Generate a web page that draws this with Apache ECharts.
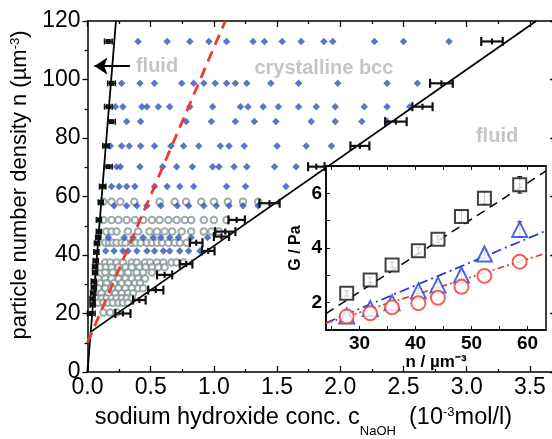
<!DOCTYPE html>
<html><head><meta charset="utf-8">
<script src="https://cdn.jsdelivr.net/npm/echarts@6/dist/echarts.min.js"></script>
<style>html,body{margin:0;padding:0;background:#fff}#c{width:552px;height:439px}</style>
</head><body><div id="c"></div>
<script>
// ---------- main panel data ----------
const xTickValues = [0, 0.5, 1, 1.5, 2, 2.5, 3, 3.5];
const yTickValues = [0, 20, 40, 60, 80, 100, 120];

// crystalline bcc (blue diamonds), one row per density
const bccRowY = [113, 98.7, 90.7, 85.6, 77.3, 70.2, 63.4, 56.8, 46, 41.4];
const bccRowX = [
  [0.40, 0.63, 0.81, 0.96, 1.10, 1.31, 1.40, 1.54, 1.69, 1.87, 1.94, 2.27, 2.50, 2.86],
  [0.27, 0.415, 0.53, 0.745, 0.84, 0.92, 1.01, 1.10, 1.17, 1.26, 1.45, 1.67, 1.98, 2.37, 2.61],
  [0.22, 0.28, 0.43, 0.47, 0.56, 0.65, 0.81, 0.99, 1.21, 1.27, 1.39, 1.51, 1.67, 1.81, 1.96, 2.19, 2.37, 2.55],
  [0.31, 0.42, 0.78, 0.98, 1.17, 1.32, 1.49, 1.77, 1.96, 2.17, 2.37],
  [0.18, 0.27, 0.33, 0.42, 0.53, 0.66, 0.76, 0.88, 1.05, 1.12, 1.24, 1.50, 1.73, 1.93],
  [0.23, 0.26, 0.415, 0.595, 0.705, 0.83, 0.99, 1.04, 1.16, 1.26, 1.48, 1.65],
  [0.19, 0.25, 0.31, 0.375, 0.53, 0.63, 0.73, 0.84, 1.10, 1.25, 1.57],
  [0.21, 0.31, 0.39, 0.47, 0.58, 0.71, 0.80, 0.92, 1.02, 1.12, 1.23, 1.35],
  [0.165, 0.29, 0.36, 0.44, 0.52, 0.58, 0.65, 0.72, 0.82, 0.95],
  [0.144, 0.21, 0.28, 0.32, 0.39, 0.47, 0.53, 0.60, 0.65, 0.73, 0.80, 0.89]
];

// open circles, one row per density
const glassRowY = [58.2, 52, 48, 44.2, 37.4, 35.8, 34, 32, 30.3, 28.6, 26.9, 25.2, 23.7, 20.3];
const glassRowX = [
  [0.125, 0.19, 0.26, 0.37, 0.57, 0.69, 0.78, 0.90, 1.00, 1.11, 1.23, 1.35],
  [0.125, 0.19, 0.245, 0.31, 0.375, 0.44, 0.51, 0.57, 0.64, 0.705, 0.77, 0.82, 0.92, 1.00, 1.10],
  [0.15, 0.19, 0.23, 0.32, 0.40, 0.49, 0.55, 0.61, 0.67, 0.745, 0.82, 0.92, 0.98, 1.04],
  [0.14, 0.17, 0.20, 0.23, 0.27, 0.30, 0.35, 0.38, 0.42, 0.47, 0.51, 0.55, 0.59, 0.64, 0.69, 0.73, 0.785],
  [0.14, 0.18, 0.23, 0.28, 0.35, 0.39, 0.455, 0.495, 0.55, 0.60, 0.665, 0.705, 0.76],
  [0.10, 0.145, 0.19, 0.245, 0.30, 0.35, 0.41, 0.46, 0.51, 0.56, 0.61],
  [0.14, 0.20, 0.26, 0.32, 0.39, 0.44, 0.51],
  [0.085, 0.14, 0.19, 0.245, 0.30, 0.35, 0.40, 0.455],
  [0.10, 0.15, 0.21, 0.27, 0.32, 0.375, 0.415],
  [0.085, 0.14, 0.19, 0.245, 0.30, 0.35, 0.40, 0.44],
  [0.11, 0.165, 0.22, 0.27, 0.32, 0.36],
  [0.07, 0.11, 0.15, 0.19, 0.23, 0.27, 0.31, 0.35],
  [0.085, 0.125, 0.165, 0.20, 0.245, 0.28, 0.32],
  [0.125, 0.18, 0.23]
];

// melting boundary (right) with horizontal error bars
const rightBoundX   = [3.20, 2.80, 2.65, 2.44, 2.155, 1.81, 1.44, 1.18, 1.09, 1.06, 0.955, 0.86, 0.78, 0.61, 0.54, 0.41, 0.28];
const rightBoundY   = [113, 98.7, 90.7, 85.6, 77.3, 70.2, 57.7, 52, 48, 46.3, 41.4, 44.2, 36.9, 33.2, 28, 24.6, 20];
const rightBoundErr = [0.085, 0.09, 0.08, 0.085, 0.075, 0.065, 0.08, 0.065, 0.08, 0.06, 0.05, 0.05, 0.05, 0.06, 0.06, 0.05, 0.06];

// freezing boundary (left) with small error bars
const leftBoundX   = [0.165, 0.19, 0.165, 0.19, 0.146, 0.165, 0.12, 0.105, 0.09, 0.09, 0.085, 0.075, 0.07, 0.065, 0.06, 0.06, 0.05, 0.05, 0.045, 0.04, 0.04, 0.03];
const leftBoundY   = [113, 98.7, 90.7, 85.6, 77.3, 70.2, 63.4, 58, 52, 48, 46, 44, 41, 38, 36, 34, 31, 29, 27, 25, 23, 20];
const leftBoundErr = [0.03, 0.03, 0.03, 0.03, 0.025, 0.03, 0.025, 0.02, 0.02, 0.02, 0.02, 0.02, 0.02, 0.02, 0.02, 0.02, 0.02, 0.02, 0.02, 0.02, 0.02, 0.03];

const leftLine   = [[0, 0], [0.225, 120]];
const rightLine  = [[0.028, 13.8], [3.55, 120]];
const freezeLine = [[0, 10], [1.09, 120]];
const arrowLine  = [[0.335, 104.6], [0.055, 104.6]];

const noteText = ['fluid', 'crystalline bcc', 'fluid'];
const noteX    = [0.55, 1.87, 3.24];
const noteY    = [104.5, 103.8, 80.4];

// ---------- inset data ----------
const insetN      = [27.7, 31.9, 35.8, 40.5, 44, 48.2, 52.3, 58.6];
const gSquare     = [2.34, 2.83, 3.38, 3.90, 4.32, 5.15, 5.82, 6.31];
const gSquareErr  = [0.1, 0.1, 0.1, 0.12, 0.12, 0.2, 0.22, 0.3];
const gTriangle   = [1.51, 1.79, 2.00, 2.43, 2.65, 3.01, 3.78, 4.68];
const gTriangleErr= [0.08, 0.08, 0.08, 0.1, 0.1, 0.12, 0.15, 0.28];
const gCircle     = [1.49, 1.61, 1.83, 1.98, 2.18, 2.58, 2.98, 3.50];
const fitSquare   = [[24, 1.6], [63.3, 6.82]];
const fitTriangle = [[24, 1.26], [63.3, 4.63]];
const fitCircle   = [[24, 1.25], [63.3, 3.81]];
const insetXTicks = [30, 40, 50, 60];
const insetYTicks = [2, 4, 6];

// ---------- build ----------
const bccPts = [];
bccRowY.forEach((y, i) => bccRowX[i].forEach(x => bccPts.push([x, y])));
const glassPts = [];
glassRowY.forEach((y, i) => glassRowX[i].forEach(x => glassPts.push([x, y])));
const rightErrData = rightBoundX.map((x, i) => [x, rightBoundY[i], rightBoundErr[i]]);
const leftErrData = leftBoundX.map((x, i) => [x, leftBoundY[i], leftBoundErr[i]]);
const noteData = noteText.map((t, i) => ({name: t, value: [noteX[i], noteY[i]]}));

function hErr(withSquare) {
  return function (params, api) {
    const x = api.value(0), y = api.value(1), e = api.value(2);
    const a = api.coord([x - e, y]), b = api.coord([x + e, y]), c = api.coord([x, y]);
    const st = {stroke: '#111', lineWidth: withSquare ? 1.6 : 2.2};
    const cap = withSquare ? 3 : 4.5;
    const ch = [
      {type: 'line', shape: {x1: a[0], y1: a[1], x2: b[0], y2: b[1]}, style: st},
      {type: 'line', shape: {x1: a[0], y1: a[1] - cap, x2: a[0], y2: a[1] + cap}, style: st},
      {type: 'line', shape: {x1: b[0], y1: b[1] - cap, x2: b[0], y2: b[1] + cap}, style: st}
    ];
    if (withSquare) ch.push({type: 'rect', shape: {x: c[0] - 2.5, y: c[1] - 2.5, width: 5, height: 5}, style: {fill: '#111'}});
    else ch.push({type: 'line', shape: {x1: c[0], y1: c[1] - 3, x2: c[0], y2: c[1] + 3}, style: st});
    return {type: 'group', children: ch};
  };
}
function vErr(color) {
  return function (params, api) {
    const x = api.value(0), y = api.value(1), e = api.value(2);
    const a = api.coord([x, y - e]), b = api.coord([x, y + e]);
    const st = {stroke: color, lineWidth: 1};
    return {type: 'group', children: [
      {type: 'line', shape: {x1: a[0], y1: a[1], x2: b[0], y2: b[1]}, style: st},
      {type: 'line', shape: {x1: a[0] - 2.5, y1: a[1], x2: a[0] + 2.5, y2: a[1]}, style: st},
      {type: 'line', shape: {x1: b[0] - 2.5, y1: b[1], x2: b[0] + 2.5, y2: b[1]}, style: st}
    ]};
  };
}

const FONT = 'Liberation Sans, Arial, sans-serif';
const axisLine = {show: true, onZero: false, lineStyle: {color: '#000', width: 1.5}};

const option = {
  animation: false,
  backgroundColor: '#fff',
  textStyle: {fontFamily: FONT},
  grid: [
    {left: 87.5, top: 21, width: 467.7, height: 351, outerBoundsMode: 'none', containLabel: false},
    {left: 326, top: 166, width: 220, height: 164, show: true, backgroundColor: '#fff', borderColor: '#000', borderWidth: 1.5, z: 5,
     outerBoundsMode: 'none', containLabel: false}
  ],
  xAxis: [
    {type: 'value', gridIndex: 0, min: 0, max: 3.7, interval: 0.5, position: 'bottom',
     axisLine, splitLine: {show: false},
     axisTick: {show: true, inside: true, length: 6, lineStyle: {color: '#000', width: 1.3}},
     minorTick: {show: true, splitNumber: 2, length: 3, lineStyle: {color: '#000', width: 1.3}},
     axisLabel: {customValues: xTickValues, formatter: v => v.toFixed(1), fontSize: 23, color: '#000', margin: 4, fontFamily: FONT},
     name: '{n|sodium hydroxide conc. c}{sub|NaOH}{n|  (10}{sup|-3}{n|mol/l)}',
     nameLocation: 'middle', nameGap: 34,
     nameTextStyle: {padding: [0, 36, 0, 0], rich: {
       n: {fontSize: 23.5, color: '#000', lineHeight: 32, verticalAlign: 'top', fontFamily: FONT},
       sub: {fontSize: 13, color: '#000', lineHeight: 13, verticalAlign: 'bottom', fontFamily: FONT},
       sup: {fontSize: 13, color: '#000', lineHeight: 13, verticalAlign: 'top', fontFamily: FONT}
     }}},
    {type: 'value', gridIndex: 0, min: 0, max: 3.7, interval: 0.5, position: 'top',
     axisLine, splitLine: {show: false}, axisLabel: {show: false},
     axisTick: {show: true, inside: true, length: 6, lineStyle: {color: '#000', width: 1.3}},
     minorTick: {show: true, splitNumber: 2, length: 3, lineStyle: {color: '#000', width: 1.3}}},
    {type: 'value', gridIndex: 1, min: 24, max: 63.3, position: 'bottom', z: 6,
     axisLine: {show: true, onZero: false, lineStyle: {color: '#000', width: 1.5}}, splitLine: {show: false},
     axisTick: {show: true, inside: true, length: 4, customValues: [25, 30, 35, 40, 45, 50, 55, 60], lineStyle: {color: '#000'}},
     axisLabel: {customValues: insetXTicks, fontSize: 19, fontWeight: 'bold', color: '#000', margin: 4, fontFamily: FONT},
     name: 'n / µm⁻³', nameLocation: 'middle', nameGap: 24,
     nameTextStyle: {fontSize: 17, fontWeight: 'bold', color: '#000', fontFamily: FONT}},
    {type: 'value', gridIndex: 1, min: 24, max: 63.3, position: 'top', z: 6,
     axisLine: {show: true, onZero: false, lineStyle: {color: '#000', width: 1.5}}, splitLine: {show: false},
     axisTick: {show: true, inside: true, length: 4, customValues: [25, 30, 35, 40, 45, 50, 55, 60], lineStyle: {color: '#000'}},
     axisLabel: {show: false}}
  ],
  yAxis: [
    {type: 'value', gridIndex: 0, min: 0, max: 120, interval: 20, position: 'left',
     axisLine, splitLine: {show: false},
     axisTick: {show: true, inside: false, length: 5, lineStyle: {color: '#000', width: 1.3}},
     minorTick: {show: true, splitNumber: 2, length: 3, lineStyle: {color: '#000', width: 1.3}},
     axisLabel: {customValues: yTickValues, fontSize: 23, color: '#000', margin: 7, fontFamily: 'Liberation Sans Narrow, ' + FONT},
     name: 'particle number density n (µm{sup|-3})', nameLocation: 'middle', nameRotate: 90, nameGap: 46,
     nameTextStyle: {fontSize: 22, color: '#000', padding: [0, 0, 0, 23], fontFamily: FONT,
       rich: {sup: {fontSize: 13, color: '#000', verticalAlign: 'top', lineHeight: 13, fontFamily: FONT}}}},
    {type: 'value', gridIndex: 0, min: 0, max: 120, interval: 20, position: 'right',
     axisLine, splitLine: {show: false}, axisLabel: {show: false},
     axisTick: {show: true, inside: true, length: 5, lineStyle: {color: '#000', width: 1.3}},
     minorTick: {show: true, splitNumber: 2, length: 3, lineStyle: {color: '#000', width: 1.3}}},
    {type: 'value', gridIndex: 1, min: 1, max: 7, position: 'left', z: 6,
     axisLine: {show: true, onZero: false, lineStyle: {color: '#000', width: 1.5}}, splitLine: {show: false},
     axisTick: {show: true, inside: true, length: 4, customValues: [1, 2, 3, 4, 5, 6, 7], lineStyle: {color: '#000'}},
     axisLabel: {customValues: insetYTicks, fontSize: 19, fontWeight: 'bold', color: '#000', margin: 4, fontFamily: FONT},
     name: 'G / Pa', nameLocation: 'middle', nameRotate: 90, nameGap: 22,
     nameTextStyle: {fontSize: 16, fontWeight: 'bold', color: '#000', fontFamily: FONT}}
  ],
  series: [
    {type: 'line', xAxisIndex: 0, yAxisIndex: 0, data: leftLine, symbol: 'none', silent: true, z: 3,
     lineStyle: {color: '#000', width: 1.8}},
    {type: 'line', xAxisIndex: 0, yAxisIndex: 0, data: rightLine, symbol: 'none', silent: true, z: 3,
     lineStyle: {color: '#000', width: 1.8}},
    {type: 'line', xAxisIndex: 0, yAxisIndex: 0, data: freezeLine, symbol: 'none', silent: true, z: 3,
     lineStyle: {color: '#ec3b32', width: 2.8, type: [11, 7]}},
    {type: 'scatter', xAxisIndex: 0, yAxisIndex: 0, data: glassPts, symbol: 'emptyCircle', symbolSize: 6.5, silent: true, z: 2,
     itemStyle: {color: '#849696', borderWidth: 0.9}},
    {type: 'scatter', xAxisIndex: 0, yAxisIndex: 0, data: bccPts, symbol: 'diamond', symbolSize: 7.5, silent: true, z: 2,
     itemStyle: {color: '#3154b8'}},
    {type: 'custom', xAxisIndex: 0, yAxisIndex: 0, data: rightErrData, renderItem: hErr(false), silent: true, z: 4},
    {type: 'custom', xAxisIndex: 0, yAxisIndex: 0, data: leftErrData, renderItem: hErr(true), silent: true, z: 4},
    {type: 'lines', coordinateSystem: 'cartesian2d', xAxisIndex: 0, yAxisIndex: 0, silent: true, z: 4,
     data: [{coords: arrowLine}], symbol: ['none', 'arrow'], symbolSize: [11, 13],
     lineStyle: {color: '#000', width: 2.2, opacity: 1}},
    {type: 'scatter', xAxisIndex: 0, yAxisIndex: 0, data: noteData, symbolSize: 0, silent: true, z: 4,
     label: {show: true, position: 'inside', formatter: '{b}', fontSize: 20, fontWeight: 'bold', color: '#b4b8b8', fontFamily: FONT}},
    // inset
    {type: 'line', xAxisIndex: 2, yAxisIndex: 2, data: fitSquare, symbol: 'none', silent: true, z: 10,
     lineStyle: {color: '#000', width: 1.5, type: [9, 6]}},
    {type: 'line', xAxisIndex: 2, yAxisIndex: 2, data: fitTriangle, symbol: 'none', silent: true, z: 10,
     lineStyle: {color: '#2440d0', width: 1.8, type: [10, 4, 2, 4]}},
    {type: 'line', xAxisIndex: 2, yAxisIndex: 2, data: fitCircle, symbol: 'none', silent: true, z: 10,
     lineStyle: {color: '#ec3b32', width: 1.8, type: [7, 3, 2, 3, 2, 3]}},
    {type: 'custom', xAxisIndex: 2, yAxisIndex: 2, data: insetN.map((n, i) => [n, gSquare[i], gSquareErr[i]]), renderItem: vErr('#000'), silent: true, z: 11},
    {type: 'custom', xAxisIndex: 2, yAxisIndex: 2, data: insetN.map((n, i) => [n, gTriangle[i], gTriangleErr[i]]), renderItem: vErr('#2440d0'), silent: true, z: 11},
    {type: 'scatter', xAxisIndex: 2, yAxisIndex: 2, data: insetN.map((n, i) => [n, gSquare[i]]), symbol: 'emptyRect', symbolSize: 13, silent: true, z: 12,
     itemStyle: {color: '#111', borderWidth: 1.4}},
    {type: 'scatter', xAxisIndex: 2, yAxisIndex: 2, data: insetN.map((n, i) => [n, gTriangle[i]]), symbol: 'emptyTriangle', symbolSize: 15, silent: true, z: 12,
     itemStyle: {color: '#2440d0', borderWidth: 1.5}},
    {type: 'scatter', xAxisIndex: 2, yAxisIndex: 2, data: insetN.map((n, i) => [n, gCircle[i]]), symbol: 'emptyCircle', symbolSize: 14, silent: true, z: 12,
     itemStyle: {color: '#ec3b32', borderWidth: 1.5}}
  ]
};
const chart = echarts.init(document.getElementById('c'));
chart.setOption(option);
</script></body></html>
